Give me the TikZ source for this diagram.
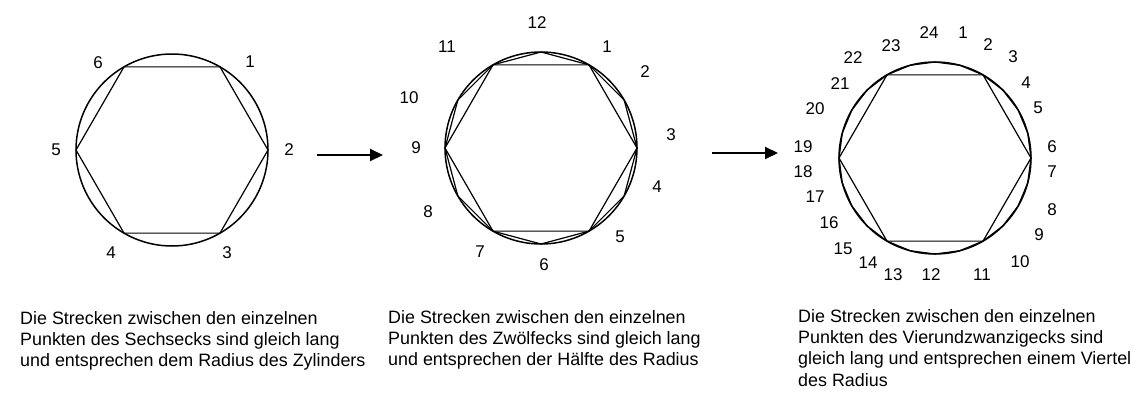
\documentclass[tikz,border=0pt]{standalone}
\usepackage{fontspec}
\setmainfont{Liberation Sans}
\usepackage{tikz}
\usetikzlibrary{arrows.meta,positioning}
\tikzset{
  zgrund/.style={
    circle,
    draw=black,
    line width=1.5pt,
    minimum size=192pt,
    inner sep=0pt,
    outer sep=0pt
  },
  zgpoly/.style={line width=1.2pt, draw=black, line join=round},
  zgnum/.style={inner sep=0pt, font=\fontsize{17}{20}\selectfont},
  zgtext/.style={inner sep=0pt, align=left, anchor=north west, font=\fontsize{17.9}{21.3}\selectfont},
  zgpfeil/.style={-{Triangle[length=13pt,width=12pt]}, line width=2pt, draw=black}
}
\begin{document}
\begin{tikzpicture}[x=1pt, y=-1pt]
  \useasboundingbox (0,0) rectangle (1133,394);
  % Sechseck
  \node[zgrund] (kreis1) at (172,150) {};
  \draw[zgpoly] (kreis1.0) \foreach \w in {60,120,...,300} { -- (kreis1.\w) } -- cycle;
  \node[zgnum] (s1) at (250,62) {1};
  \node[zgnum] (s2) at (289,150) {2};
  \node[zgnum] (s3) at (227,253) {3};
  \node[zgnum] (s4) at (111,253) {4};
  \node[zgnum] (s5) at (56,150) {5};
  \node[zgnum] (s6) at (98,63) {6};
  % Zwoelfeck
  \node[zgrund] (kreis2) at (541,148) {};
  \draw[zgpoly] (kreis2.0) \foreach \w in {60,120,...,300} { -- (kreis2.\w) } -- cycle;
  \draw[zgpoly] (kreis2.0) \foreach \w in {30,60,...,330} { -- (kreis2.\w) } -- cycle;
  \node[zgnum] (z12) at (537,23) {12};
  \node[zgnum] (z1) at (607,47) {1};
  \node[zgnum] (z2) at (645,72) {2};
  \node[zgnum] (z3) at (671,135) {3};
  \node[zgnum] (z4) at (657,187) {4};
  \node[zgnum] (z5) at (620,237) {5};
  \node[zgnum] (z6) at (544,265) {6};
  \node[zgnum] (z7) at (480,252) {7};
  \node[zgnum] (z8) at (428,212) {8};
  \node[zgnum] (z9) at (416,148) {9};
  \node[zgnum] (z10) at (409,98) {10};
  \node[zgnum] (z11) at (447,47) {11};
  % Vierundzwanzigeck
  \node[zgrund] (kreis3) at (935,158) {};
  \draw[zgpoly] (kreis3.0) \foreach \w in {60,120,...,300} { -- (kreis3.\w) } -- cycle;
  \draw[zgpoly] (kreis3.0) \foreach \w in {15,30,...,345} { -- (kreis3.\w) } -- cycle;
  \node[zgnum] (v24) at (929,33) {24};
  \node[zgnum] (v1) at (963,33) {1};
  \node[zgnum] (v2) at (988,45) {2};
  \node[zgnum] (v3) at (1013,57) {3};
  \node[zgnum] (v4) at (1026,83) {4};
  \node[zgnum] (v5) at (1038,108) {5};
  \node[zgnum] (v6) at (1052,147) {6};
  \node[zgnum] (v7) at (1052,172) {7};
  \node[zgnum] (v8) at (1052,210) {8};
  \node[zgnum] (v9) at (1039,235) {9};
  \node[zgnum] (v10) at (1020,262) {10};
  \node[zgnum] (v11) at (982,275) {11};
  \node[zgnum] (v12) at (931,275) {12};
  \node[zgnum] (v13) at (893,275) {13};
  \node[zgnum] (v14) at (868,263) {14};
  \node[zgnum] (v15) at (843,249) {15};
  \node[zgnum] (v16) at (829,223) {16};
  \node[zgnum] (v17) at (815,197) {17};
  \node[zgnum] (v18) at (803,172) {18};
  \node[zgnum] (v19) at (803,147) {19};
  \node[zgnum] (v20) at (815,109) {20};
  \node[zgnum] (v21) at (840,84) {21};
  \node[zgnum] (v22) at (853,58) {22};
  \node[zgnum] (v23) at (891,46) {23};
  % Pfeile
  \coordinate (pfeil1a) at (317,155);
  \coordinate (pfeil1b) at (383,155);
  \coordinate (pfeil2a) at (712,153);
  \coordinate (pfeil2b) at (778,153);
  \draw[zgpfeil] (pfeil1a) -- (pfeil1b);
  \draw[zgpfeil] (pfeil2a) -- (pfeil2b);
  % Texte
  \node[zgtext] (text1) at (20,311) {Die Strecken zwischen den einzelnen\\Punkten des Sechsecks sind gleich lang\\und entsprechen dem Radius des Zylinders};
  \node[zgtext] (text2) at (388,310) {Die Strecken zwischen den einzelnen\\Punkten des Zwölfecks sind gleich lang\\und entsprechen der Hälfte des Radius};
  \node[zgtext] (text3) at (798,309) {Die Strecken zwischen den einzelnen\\Punkten des Vierundzwanzigecks sind\\gleich lang und entsprechen einem Viertel\\des Radius};
\end{tikzpicture}
\end{document}
